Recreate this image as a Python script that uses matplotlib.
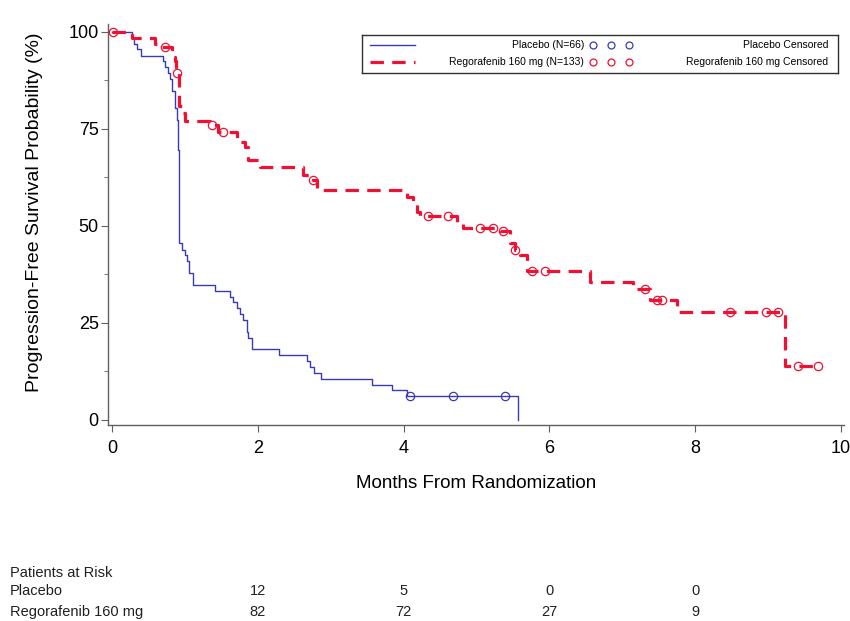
import matplotlib
matplotlib.use("Agg")
import matplotlib.pyplot as plt
from matplotlib.lines import Line2D
from matplotlib.ticker import MultipleLocator
from matplotlib.transforms import blended_transform_factory

plt.rcParams['font.family'] = ['Liberation Sans', 'DejaVu Sans']

# ---- data ----
placebo_t = [0, 0.27, 0.30, 0.34, 0.40, 0.70, 0.73, 0.77, 0.80, 0.82, 0.86, 0.89, 0.905, 0.92,
             0.96, 1.00, 1.03, 1.06, 1.11, 1.41, 1.62, 1.66, 1.71, 1.76, 1.80, 1.85, 1.87, 1.92,
             2.29, 2.67, 2.72, 2.77, 2.87, 3.57, 3.84, 4.05, 5.57]
placebo_s = [100, 98.5, 97.0, 95.5, 93.9, 92.4, 90.9, 89.4, 87.9, 84.8, 80.3, 77.3, 69.7, 45.5,
             43.9, 42.4, 40.9, 37.9, 34.8, 33.3, 31.8, 30.3, 28.8, 27.3, 25.8, 22.7, 21.2, 18.2,
             16.7, 15.2, 13.6, 12.1, 10.6, 9.1, 7.6, 6.1, 0]
placebo_cens_t = [4.09, 4.68, 5.39]
placebo_cens_s = [6.1, 6.1, 6.1]

rego_t = [0, 0.28, 0.59, 0.69, 0.82, 0.86, 0.88, 0.92, 0.96, 1.00, 1.34, 1.45, 1.71, 1.82, 1.87,
          2.03, 2.62, 2.76, 2.81, 4.05, 4.13, 4.18, 4.22, 4.73, 4.81, 5.32, 5.46, 5.53, 5.60,
          5.69, 6.56, 7.15, 7.38, 7.75, 9.23, 9.68]
rego_s = [100, 98.5, 97.0, 96.0, 93.6, 92.5, 89.5, 81.0, 79.0, 77.0, 76.0, 74.2, 71.6, 70.4, 67.0,
          65.2, 63.1, 61.9, 59.3, 57.5, 55.9, 53.6, 52.6, 51.0, 49.5, 48.7, 45.5, 43.8, 42.5,
          38.5, 35.5, 33.7, 30.9, 27.8, 13.9, 13.9]
rego_cens_t = [0.02, 0.73, 0.89, 1.37, 1.52, 2.76, 4.33, 4.61, 5.05, 5.23, 5.36, 5.53, 5.76, 5.94,
               7.31, 7.48, 7.54, 8.48, 8.98, 9.14, 9.41, 9.68]
rego_cens_s = [100, 96.0, 89.5, 76.0, 74.2, 61.9, 52.6, 52.6, 49.5, 49.5, 48.7, 43.8, 38.5, 38.5,
               33.7, 30.9, 30.9, 27.8, 27.8, 27.8, 13.9, 13.9]

risk_times = [2, 4, 6, 8]
risk_placebo = [12, 5, 0, 0]
risk_rego = [82, 72, 27, 9]

legend_labels = ["Placebo (N=66)", "Regorafenib 160 mg (N=133)"]
censor_labels = ["Placebo Censored", "Regorafenib 160 mg Censored"]

blue = '#3a3ab8'
red = '#ee1133'

fig = plt.figure(figsize=(8.5, 6.21), dpi=100)
ax = fig.add_axes([0.1275, 0.3156, 0.866, 0.6454])

ax.plot(placebo_t, placebo_s, drawstyle='steps-post', color=blue, lw=1.0, zorder=3)
ax.plot(placebo_cens_t, placebo_cens_s, 'o', ms=6, mfc='none', mec=blue, mew=0.9, zorder=4)
ax.plot(rego_t, rego_s, drawstyle='steps-post', color=red, lw=2.3, dashes=(4.2, 2.6), zorder=3)
ax.plot(rego_cens_t, rego_cens_s, 'o', ms=6, mfc='none', mec=red, mew=0.9, zorder=4)

ax.set_xlim(-0.05, 10.05)
ax.set_ylim(-1.3, 102)
ax.set_xticks([0, 2, 4, 6, 8, 10])
ax.set_yticks([0, 25, 50, 75, 100])
ax.yaxis.set_minor_locator(MultipleLocator(12.5))
for s in ['top', 'right']:
    ax.spines[s].set_visible(False)
for s in ['left', 'bottom']:
    ax.spines[s].set_color('#606060')
    ax.spines[s].set_linewidth(1.0)
ax.tick_params(axis='both', which='major', length=5, color='#606060', labelsize=13)
ax.tick_params(axis='x', which='major', pad=6)
ax.tick_params(axis='y', which='major', pad=2)
ax.tick_params(axis='y', which='minor', length=3, color='#606060')
ax.set_xlabel("Months From Randomization", fontsize=13.5, labelpad=13)
fig.text(35 / 850, 1 - 212 / 621, "Progression-Free Survival Probability (%)",
         rotation=90, ha='center', va='center', fontsize=14)

# legend box
lax = fig.add_axes([362 / 850, 1 - 73 / 621, (838 - 362) / 850, 38 / 621])
lax.set_xlim(0, 476)
lax.set_ylim(0, 38)
lax.set_xticks([])
lax.set_yticks([])
for s in lax.spines.values():
    s.set_color('#303030')
    s.set_linewidth(1.0)
rows_y = [28, 11]
cols = [blue, red]
for i in range(2):
    y = rows_y[i]
    if i == 0:
        lax.add_line(Line2D([8, 53], [y, y], color=blue, lw=1.0))
    else:
        lax.add_line(Line2D([8, 53], [y, y], color=red, lw=2.3, dashes=(4.2, 2.6)))
    lax.text(222, y, legend_labels[i], ha='right', va='center', fontsize=7.5)
    lax.plot([231, 249, 267], [y, y, y], 'o', ms=5, mfc='none', mec=cols[i], mew=0.9)
    lax.text(466, y, censor_labels[i], ha='right', va='center', fontsize=7.5)

# risk table
tr = blended_transform_factory(ax.transData, fig.transFigure)
fs = 10.5
fig.text(10 / 850, 1 - 573 / 621, "Patients at Risk", fontsize=fs, va='center', color='#202020')
fig.text(10 / 850, 1 - 591 / 621, "Placebo", fontsize=fs, va='center', color='#202020')
fig.text(10 / 850, 1 - 612 / 621, "Regorafenib 160 mg", fontsize=fs, va='center', color='#202020')
for t, a, b in zip(risk_times, risk_placebo, risk_rego):
    ax.text(t, 1 - 591 / 621, str(a), transform=tr, ha='center', va='center', fontsize=fs, color='#202020')
    ax.text(t, 1 - 612 / 621, str(b), transform=tr, ha='center', va='center', fontsize=fs, color='#202020')

fig.savefig("out.png", dpi=100)
